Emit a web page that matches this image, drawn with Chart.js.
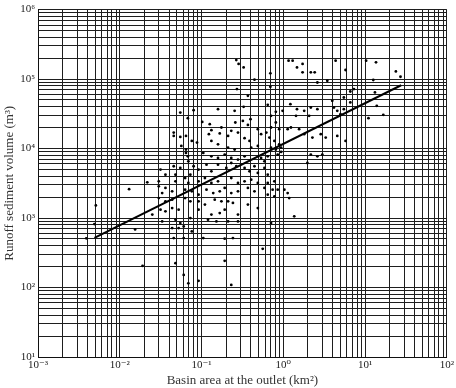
<!DOCTYPE html>
<html><head><meta charset="utf-8">
<script src="https://cdn.jsdelivr.net/npm/chart.js@4"></script>
<style>html,body{margin:0;padding:0;background:#fff}#wrap{width:456px;height:388px}</style>
</head><body><div id="wrap"><canvas id="c" width="456" height="388"></canvas></div>
<script>
const scatterX=[0.0039,0.0051,0.0049,0.013,0.0154,0.019,0.0217,0.025,
0.266,0.284,0.327,0.695,0.444,0.271,0.369,0.695,1.16,1.30,1.72,1.47,1.72,2.17,2.42,2.61,3.45,4.36,5.77,10.3,13.6,12.6,23.8,27.1,7.3,6.6,3.97,5.5,13.2,
0.055,0.080,0.068,0.159,0.254,0.327,0.645,0.708,0.81,0.98,1.22,1.47,1.80,2.17,2.61,1.43,2.07,4.16,4.57,5.0,5.5,6.6,11.0,13.9,16.7,
0.102,0.126,0.132,0.123,0.175,0.167,0.211,0.259,0.32,0.369,0.397,0.231,0.279,0.488,0.535,0.62,0.708,0.81,0.89,1.13,1.24,1.56,
0.0457,0.0457,0.055,0.0645,0.076,0.088,0.132,0.159,0.336,0.386,0.676,0.778,0.89,1.80,2.27,2.87,3.3,4.57,5.77,
0.0566,0.0645,0.211,0.254,0.405,0.488,0.708,0.81,0.94,
0.0645,0.068,0.069,0.105,0.132,0.159,0.192,0.231,0.279,0.336,0.535,0.588,0.645,0.854,0.94,2.17,2.61,3.0,1.97,
0.0457,0.048,0.055,0.0315,0.0362,0.030,0.080,0.092,0.115,0.132,0.159,0.201,0.231,0.266,0.336,0.386,0.444,0.488,0.588,0.645,
0.048,0.063,0.069,0.073,0.092,0.11,0.132,0.159,0.231,0.279,0.336,0.405,0.488,0.645,0.778,0.030,0.0362,0.033,0.0437,
0.063,0.076,0.092,0.115,0.139,0.167,0.192,0.231,0.279,0.369,0.444,0.588,0.74,0.854,1.03,0.645,0.778,1.13,1.18,
0.030,0.0362,0.0437,0.063,0.073,0.092,0.11,0.145,0.175,0.211,0.242,0.369,0.488,0.0437,0.0525,0.0315,0.0362,0.092,0.132,0.167,0.192,0.279,1.36,
0.033,0.048,0.055,0.073,0.12,0.152,0.211,0.279,0.708,0.0437,0.0525,0.0605,0.076,0.0457,0.0605,0.105,0.192,0.242,0.56,0.048,0.192,0.0605,0.069,0.092,0.231];
const scatterY=[510,1520,820,2600,685,205,3270,1120,
188000,165000,147000,121000,98000,71700,57500,77400,184000,184000,165000,147000,125000,125000,125000,89300,94600,184000,135000,184000,174000,97000,129000,108000,71700,66300,48700,54300,64200,
33000,35700,27400,36900,34900,39900,42600,29600,33800,34900,43600,36900,34900,39000,36900,29600,29600,39000,34900,31300,36900,46100,27400,41200,30600,
24200,22400,18400,16100,20100,16500,15200,23700,25000,21900,26500,18000,17000,19000,16100,17000,20100,23700,19000,19000,20100,19000,
17000,15200,14700,15200,12900,12200,12900,11500,14100,12900,14400,12900,11500,16100,14400,16100,14400,15200,12900,
10900,9700,10300,9700,10300,10900,10300,9700,10300,
8650,7740,6560,8650,7740,7330,8180,7330,6950,7740,7330,6560,7740,8180,8930,8180,7740,8180,6200,
5560,4210,5260,4980,4210,3380,5560,4980,5870,4710,5870,5260,6200,5560,5260,4710,5560,4460,5260,4210,
3380,3770,3200,4210,3380,3770,3200,3380,3770,3200,3380,3570,3200,3200,3380,2860,2710,2290,2420,
2560,2420,2170,2560,2290,2420,2710,2290,2420,2710,2420,2710,2560,2560,2560,2170,2050,2290,1940,
1940,1740,1840,1940,1740,1740,1560,1840,1740,1740,1650,1560,1390,1390,1320,1320,1250,1320,1120,1180,1320,1120,1060,
893,946,845,1000,946,893,893,893,845,717,717,758,642,514,514,514,504,514,361,224,242,152,115,125,109];
const lineX=[0.0049,27.6];
const lineY=[520,81500];
const xDecades=[0.001,0.01,0.1,1,10,100];
const xTickLabels=['10\u207B\u00B3','10\u207B\u00B2','10\u207B\u00B9','10\u2070','10\u00B9','10\u00B2'];
const yDecades=[10,100,1000,10000,100000,1000000];
const yTickLabels=['10\u00B9','10\u00B2','10\u00B3','10\u2074','10\u2075','10\u2076'];
const xTitle='Basin area at the outlet (km\u00B2)';
const yTitle='Runoff sediment volume (m\u00B3)';

function logTicks(dec){const t=[];for(let i=0;i<dec.length-1;i++){for(let k=1;k<10;k++)t.push({value:+(dec[i]*k).toPrecision(3)});}t.push({value:dec[dec.length-1]});return t;}
function labelFor(v,dec,labels){for(let i=0;i<dec.length;i++){if(Math.abs(v/dec[i]-1)<1e-6)return labels[i];}return '';}

const pts=scatterX.map((x,i)=>({x:x,y:scatterY[i]}));
const linePts=lineX.map((x,i)=>({x:x,y:lineY[i]}));
const serif='"Liberation Serif","DejaVu Serif",serif';

new Chart(document.getElementById('c'),{
  type:'scatter',
  data:{datasets:[
    {data:pts,pointRadius:1.4,pointBackgroundColor:'#000',pointBorderWidth:0,order:2},
    {data:linePts,showLine:true,borderColor:'#000',borderWidth:2,pointRadius:0,order:1}
  ]},
  options:{
    responsive:false,animation:false,devicePixelRatio:1,
    layout:{padding:{left:0,right:6,top:8,bottom:0}},
    plugins:{legend:{display:false},tooltip:{enabled:false}},
    scales:{
      x:{type:'logarithmic',min:0.001,max:100,
        afterBuildTicks:s=>{s.ticks=logTicks(xDecades);},
        afterFit:s=>{s.height=31;},
        ticks:{autoSkip:false,maxRotation:0,padding:2,color:'#222',font:{family:serif,size:11},
          callback:v=>labelFor(v,xDecades,xTickLabels)},
        grid:{color:'#1e1e1e',lineWidth:1,drawTicks:false},
        border:{color:'#111',width:1},
        title:{display:true,text:xTitle,color:'#333',font:{family:serif,size:13},padding:{top:2,bottom:0}}
      },
      y:{type:'logarithmic',min:10,max:1000000,
        afterBuildTicks:s=>{s.ticks=logTicks(yDecades);},
        afterFit:s=>{s.width=38;},
        ticks:{autoSkip:false,padding:3,color:'#222',font:{family:serif,size:11},
          callback:v=>labelFor(v,yDecades,yTickLabels)},
        grid:{color:'#1e1e1e',lineWidth:1,drawTicks:false},
        border:{color:'#111',width:1},
        title:{display:true,text:yTitle,color:'#333',font:{family:serif,size:13},padding:{top:2,bottom:0}}
      }
    }
  }
});
</script></body></html>
